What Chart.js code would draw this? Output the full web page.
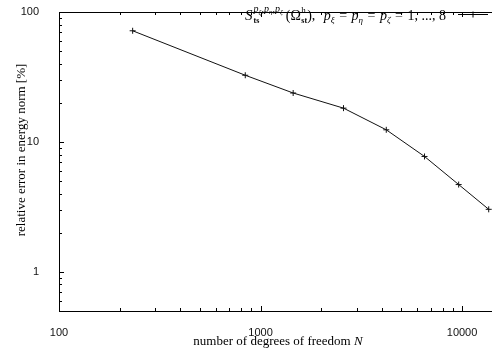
<!DOCTYPE html>
<html>
<head>
<meta charset="utf-8">
<script src="https://cdn.jsdelivr.net/npm/chart.js@4/dist/chart.umd.min.js"></script>
<style>
  html, body { margin: 0; padding: 0; background: #fff; }
  canvas { display: block; }
</style>
</head>
<body>
<canvas id="c" width="496" height="351"></canvas>
<script>
// Convergence of the relative error vs. number of degrees of freedom
const dof = [232, 840, 1452, 2581, 4207, 6513, 9620, 13560];
const relErr = [71.7, 32.6, 23.8, 18.2, 12.4, 7.73, 4.70, 3.03];

// Labelled decades on each axis
const xTickLabels = ['100', '1000', '10000'];
const yTickLabels = ['1', '10', '100'];

// Tick positions (decades with 2..9 minors)
function logTicks(lo, hi) {
  const out = [];
  for (let d = Math.pow(10, Math.floor(Math.log10(lo))); d <= hi; d *= 10) {
    for (let m = 1; m <= 9; m++) {
      const v = Math.round(m * d * 1000) / 1000;
      if (v >= lo - 1e-9 && v <= hi + 1e-9) out.push(v);
    }
  }
  return out;
}
const xMin = 100, xMax = 13920;
const yMin = 0.5, yMax = 100;
const xTickValues = logTicks(100, 10000);
const yTickValues = logTicks(0.5, 100);

const sansFont = { family: "'Liberation Sans', Arial, sans-serif", size: 11 };
const serif = "'Liberation Serif', 'Times New Roman', serif";

function isLabelled(v, labels) {
  return labels.some(l => Math.abs(Number(l) - v) < 1e-6);
}

// Frame, inward gnuplot-style ticks, axis titles and the key
const decorations = {
  id: 'decorations',
  afterDraw(chart) {
    const { ctx, chartArea: a, scales } = chart;
    const xs = scales.x, ys = scales.y;
    ctx.save();
    ctx.strokeStyle = '#000';
    ctx.lineWidth = 1;
    ctx.beginPath();
    ctx.moveTo(a.right + 1, Math.round(a.top) + 0.5);
    ctx.lineTo(Math.round(a.left) + 0.5, Math.round(a.top) + 0.5);
    ctx.lineTo(Math.round(a.left) + 0.5, Math.round(a.bottom) + 0.5);
    ctx.lineTo(a.right + 1, Math.round(a.bottom) + 0.5);
    ctx.stroke();

    ctx.beginPath();
    xTickValues.forEach(v => {
      const px = Math.round(xs.getPixelForValue(v)) + 0.5;
      const len = isLabelled(v, xTickLabels) ? 5 : 3;
      ctx.moveTo(px, a.bottom); ctx.lineTo(px, a.bottom - len);
      ctx.moveTo(px, a.top); ctx.lineTo(px, a.top + len);
    });
    yTickValues.forEach(v => {
      const py = Math.round(ys.getPixelForValue(v)) + 0.5;
      const len = isLabelled(v, yTickLabels) ? 5 : 3;
      ctx.moveTo(a.left, py); ctx.lineTo(a.left + len, py);
    });
    ctx.stroke();

    // x axis title
    ctx.fillStyle = '#000';
    ctx.textBaseline = 'alphabetic';
    const t1 = 'number of degrees of freedom ';
    ctx.font = '13px ' + serif;
    const w1 = ctx.measureText(t1).width;
    ctx.font = 'italic 13px ' + serif;
    const w2 = ctx.measureText('N').width;
    const cx = 278;
    let x0 = cx - (w1 + w2) / 2;
    ctx.font = '13px ' + serif;
    ctx.fillText(t1, x0, 345);
    ctx.font = 'italic 13px ' + serif;
    ctx.fillText('N', x0 + w1, 345);

    // y axis title
    ctx.save();
    ctx.translate(22, 150);
    ctx.rotate(-Math.PI / 2);
    ctx.font = '13px ' + serif;
    ctx.textAlign = 'center';
    ctx.textBaseline = 'middle';
    ctx.fillText('relative error in energy norm [%]', 0, 0);
    ctx.restore();

    // key: text runs with sub/superscripts (gap = extra space before a run)
    const base = 20;
    const runs = [
      { t: 'S', f: 'italic 15px ' + serif, dy: 0 },
      { t: 'p', f: 'italic 10px ' + serif, dy: -8, sub: { t: 'ts', f: 'bold 8px ' + serif, dy: 3 }, gap: 1 },
      { t: 'ξ', f: 'italic 7px ' + serif, dy: -6 },
      { t: ',p', f: 'italic 10px ' + serif, dy: -8 },
      { t: 'η', f: 'italic 7px ' + serif, dy: -6 },
      { t: ',p', f: 'italic 10px ' + serif, dy: -8 },
      { t: 'ζ', f: 'italic 7px ' + serif, dy: -6 },
      { t: '(Ω', f: '14px ' + serif, dy: 0, gap: 3 },
      { t: 'h', f: '9px ' + serif, dy: -7, sub: { t: 'st', f: 'bold 8px ' + serif, dy: 3 }, wide: true, gap: 0.5 },
      { t: '), ', f: '14px ' + serif, dy: 0 },
      { t: 'p', f: 'italic 14px ' + serif, dy: 0, gap: 5 },
      { t: 'ξ', f: 'italic 9px ' + serif, dy: 3 },
      { t: ' = ', f: '14px ' + serif, dy: 0, gap: 1, after: 1 },
      { t: 'p', f: 'italic 14px ' + serif, dy: 0 },
      { t: 'η', f: 'italic 9px ' + serif, dy: 3 },
      { t: ' = ', f: '14px ' + serif, dy: 0, gap: 1, after: 1 },
      { t: 'p', f: 'italic 14px ' + serif, dy: 0 },
      { t: 'ζ', f: 'italic 9px ' + serif, dy: 3 },
      { t: ' = ', f: '14px ' + serif, dy: 0, gap: 1, after: 1 },
      { t: '1, ..., 8', f: '14px ' + serif, dy: 0 }
    ];
    let x = 245;
    ctx.textAlign = 'left';
    ctx.textBaseline = 'alphabetic';
    runs.forEach(r => {
      x += r.gap || 0;
      ctx.font = r.f;
      const w = ctx.measureText(r.t).width;
      ctx.fillText(r.t, x, base + r.dy);
      let sw = 0;
      if (r.sub) {
        ctx.font = r.sub.f;
        sw = ctx.measureText(r.sub.t).width;
        ctx.fillText(r.sub.t, x, base + r.sub.dy);
      }
      x += (r.wide ? Math.max(w, sw) : w) + (r.after || 0);
    });
    // key sample line with marker
    const ly = 14.5;
    ctx.beginPath();
    ctx.moveTo(458, ly); ctx.lineTo(488, ly);
    ctx.moveTo(473, ly - 3); ctx.lineTo(473, ly + 3);
    ctx.stroke();
    ctx.restore();
  }
};

new Chart(document.getElementById('c'), {
  type: 'scatter',
  data: {
    datasets: [{
      data: dof.map((n, i) => ({ x: n, y: relErr[i] })),
      showLine: true,
      borderColor: '#111',
      borderWidth: 1,
      pointStyle: 'cross',
      pointRadius: 3,
      pointBorderWidth: 1,
      pointBorderColor: '#111',
      pointBackgroundColor: '#111',
      clip: false
    }]
  },
  options: {
    responsive: false,
    animation: false,
    devicePixelRatio: 1,
    layout: { padding: { top: 12, right: 0, left: 0, bottom: 0 } },
    plugins: { legend: { display: false }, tooltip: { enabled: false } },
    scales: {
      x: {
        type: 'logarithmic',
        min: xMin, max: xMax,
        afterFit(s) { s.height = 40; s.paddingLeft = 0; s.paddingRight = 0; },
        afterBuildTicks(s) { s.ticks = xTickValues.map(v => ({ value: v })); },
        ticks: {
          autoSkip: false, maxRotation: 0, padding: 7,
          font: sansFont, color: '#111',
          callback(v) { return isLabelled(v, xTickLabels) ? String(Math.round(v)) : ''; }
        },
        grid: { display: false },
        border: { display: false }
      },
      y: {
        type: 'logarithmic',
        min: yMin, max: yMax,
        afterFit(s) { s.width = 59; s.paddingTop = 0; s.paddingBottom = 0; },
        afterBuildTicks(s) { s.ticks = yTickValues.map(v => ({ value: v })); },
        ticks: {
          autoSkip: false, padding: 12,
          font: sansFont, color: '#111',
          callback(v) { return isLabelled(v, yTickLabels) ? String(v) : ''; }
        },
        grid: { display: false },
        border: { display: false }
      }
    }
  },
  plugins: [decorations]
});
</script>
</body>
</html>
